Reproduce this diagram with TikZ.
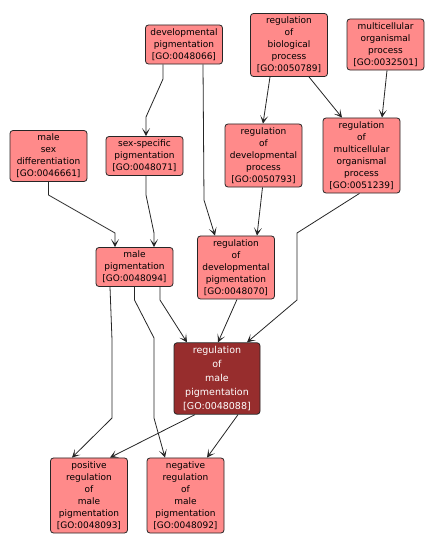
\documentclass[tikz,border=0pt]{standalone}
\usepackage{fontspec}
\setmainfont{DejaVu Sans}
\usepackage{tikz}
\usetikzlibrary{arrows.meta, positioning}
\usepackage{xcolor}
\definecolor{gopink}{RGB}{255,138,138}
\definecolor{godark}{RGB}{151,45,45}

\begin{document}
\begin{tikzpicture}[x=1pt, y=-1pt,
  goterm/.style={draw=black!85, line width=0.8pt, fill=gopink, rounded corners=3pt, align=center,
    font=\fontsize{9}{12}\selectfont, inner sep=3.5pt, minimum width=77pt},
  gofocus/.style={goterm, fill=godark, text=white, font=\fontsize{9.5}{14}\selectfont, minimum width=86pt},
  edge/.style={draw=black!85, line width=0.8pt, -{Stealth[length=8pt, width=8pt, inset=4.5pt]}}
]

  \useasboundingbox[fill=white] (0,0) rectangle (435,549);

  % Top row
  \node[goterm] (devpig) at (184,44.5) {developmental\\pigmentation\\{[}GO:0048066{]}};
  \node[goterm] (regbio) at (289,45) {regulation\\of\\biological\\process\\{[}GO:0050789{]}};
  \node[goterm] (multi) at (385.5,44.5) {multicellular\\organismal\\process\\{[}GO:0032501{]}};

  % Second row
  \node[goterm] (malesex) at (48.5,156) {male\\sex\\differentiation\\{[}GO:0046661{]}};
  \node[goterm] (sexspec) at (144.5,156) {sex-specific\\pigmentation\\{[}GO:0048071{]}};
  \node[goterm] (regdevproc) at (263.5,155.5) {regulation\\of\\developmental\\process\\{[}GO:0050793{]}};
  \node[goterm] (regmulti) at (361.5,155.5) {regulation\\of\\multicellular\\organismal\\process\\{[}GO:0051239{]}};

  % Third row
  \node[goterm] (malepig) at (134.5,267) {male\\pigmentation\\{[}GO:0048094{]}};
  \node[goterm] (regdevpig) at (236,267.5) {regulation\\of\\developmental\\pigmentation\\{[}GO:0048070{]}};

  % Focus term
  \node[gofocus] (regmale) at (217,378.5) {regulation\\of\\male\\pigmentation\\{[}GO:0048088{]}};

  % Bottom row
  \node[goterm] (pos) at (89,495.5) {positive\\regulation\\of\\male\\pigmentation\\{[}GO:0048093{]}};
  \node[goterm] (neg) at (185.5,495.5) {negative\\regulation\\of\\male\\pigmentation\\{[}GO:0048092{]}};

  % Edges
  \draw[edge] ([xshift=-21]devpig.south) -- (163,79) -- (146,117) -- ([xshift=1.5]sexspec.north);
  \draw[edge] ([xshift=19]devpig.south) -- (204,200) -- ([xshift=-21]regdevpig.north);
  \draw[edge] ([xshift=-19]regbio.south) -- ([xshift=-0.5]regdevproc.north);
  \draw[edge] ([xshift=20]regbio.south) -- ([xshift=-19.5]regmulti.north);
  \draw[edge] ([xshift=1.5]multi.south) -- ([xshift=20.5]regmulti.north);
  \draw[edge] (malesex.south) -- (48.5,195) -- (115,233) -- ([xshift=-19.5]malepig.north);
  \draw[edge] ([xshift=1.5]sexspec.south) -- (146,195) -- (154,233) -- ([xshift=19.5]malepig.north);
  \draw[edge] ([xshift=-1]regdevproc.south) -- ([xshift=21]regdevpig.north);
  \draw[edge] ([xshift=-2]regmulti.south) -- (297,233) -- (297,300) -- ([xshift=30]regmale.north);
  \draw[edge] ([xshift=25.5]malepig.south) -- (160,300) -- ([xshift=-30]regmale.north);
  \draw[edge] ([xshift=1]regdevpig.south) -- ([xshift=1]regmale.north);
  \draw[edge] ([xshift=-24.5]malepig.south) -- (112,340) -- (112,418) -- ([xshift=-17]pos.north);
  \draw[edge] (malepig.south) -- (134.5,300) -- (154,338) -- (154,418) -- ([xshift=-20.5]neg.north);
  \draw[edge] ([xshift=-22]regmale.south) -- ([xshift=21]pos.north);
  \draw[edge] ([xshift=21]regmale.south) -- ([xshift=21.5]neg.north);

\end{tikzpicture}
\end{document}
